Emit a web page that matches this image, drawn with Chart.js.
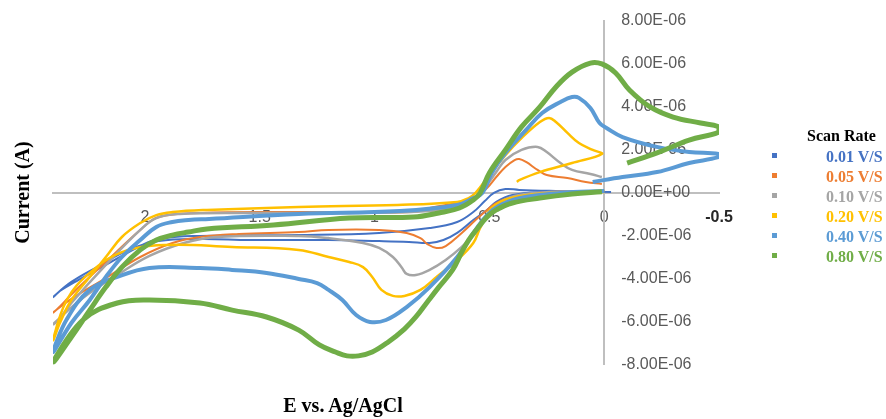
<!DOCTYPE html>
<html>
<head>
<meta charset="utf-8">
<script src="https://cdn.jsdelivr.net/npm/chart.js@4.4.1/dist/chart.umd.min.js"></script>
<style>
  body { margin: 0; background: #fff; }
  #wrap { position: relative; width: 886px; height: 419px; }
  #xTitle { position: absolute; left: 0; width: 686px; top: 393px; text-align: center;
    font: bold 20px "Liberation Serif"; line-height: 24px; color: #000; }
  #legTitle { position: absolute; left: 807px; top: 126px; font: bold 16px "Liberation Serif";
    line-height: 20px; color: #000; white-space: nowrap; }
  .legRow { position: absolute; left: 826px; font: bold 16px "Liberation Serif"; line-height: 20px; white-space: nowrap; }
  .legBox { position: absolute; left: 772px; width: 5px; height: 5px; }
</style>
</head>
<body>
<div id="wrap">
  <canvas id="cv"></canvas>
  <div id="xTitle">E vs. Ag/AgCl</div>
  <div id="legTitle">Scan Rate</div>
</div>
<script>
// scan rates and colours
const seriesLabels = ["0.01 V/S", "0.05 V/S", "0.10 V/S", "0.20 V/S", "0.40 V/S", "0.80 V/S"];
const seriesColors = ["#4472C4", "#ED7D31", "#A5A5A5", "#FFC000", "#5B9BD5", "#70AD47"];
const lineWidths = [2, 2, 2.5, 2.5, 4, 5];

// tick labels
const xTicks = [-0.5, 0, 0.5, 1, 1.5, 2];
const xTickLabels = ["-0.5", "0", "0.5", "1", "1.5", "2"];
const yTicks = [8, 6, 4, 2, 0, -2, -4, -6, -8]; // in microamps
const yTickLabels = ["8.00E-06", "6.00E-06", "4.00E-06", "2.00E-06", "0.00E+00",
  "-2.00E-06", "-4.00E-06", "-6.00E-06", "-8.00E-06"];

// potential (V) / current (uA) for each scan, in scan order
const e001 = [0.00,0.28,0.40,0.47,0.51,0.57,0.64,0.70,0.76,0.85,0.98,1.20,1.54,1.76,1.94,2.07,2.20,2.32,2.40,
  2.37,2.29,2.17,2.02,1.94,1.76,1.33,0.98,0.76,0.64,0.57,0.52,0.48,0.43,0.37,0.19,-0.03];
const i001 = [0.07,0.02,-0.12,-0.44,-0.81,-1.28,-1.88,-2.21,-2.35,-2.30,-2.26,-2.21,-2.21,-2.16,-2.26,-2.67,-3.42,-4.16,-4.86,
  -4.58,-4.07,-3.37,-2.49,-2.16,-2.02,-1.98,-1.88,-1.65,-1.37,-0.91,-0.40,-0.02,0.16,0.12,0.07,0.02];

const e005 = [0.00,0.24,0.40,0.47,0.51,0.56,0.62,0.69,0.73,0.77,0.80,0.86,0.98,1.20,1.33,1.59,1.76,1.88,2.02,2.17,2.32,2.40,
  2.37,2.32,2.17,2.02,1.94,1.76,1.33,0.83,0.76,0.69,0.62,0.56,0.51,0.47,0.43,0.39,0.37,0.34,0.29,0.25,0.16,0.08,0.01];
const i005 = [0.07,0.02,-0.21,-0.49,-0.81,-1.28,-1.88,-2.49,-2.58,-2.40,-2.12,-1.88,-1.74,-1.74,-1.84,-1.93,-2.07,-2.35,-3.00,-3.98,-4.95,-5.58,
  -5.30,-4.74,-3.23,-1.74,-1.14,-0.95,-0.91,-0.91,-0.72,-0.58,-0.44,-0.21,0.21,0.72,1.19,1.51,1.56,1.42,1.05,0.81,0.67,0.49,0.40];

const e010 = [0.00,0.24,0.39,0.47,0.52,0.56,0.62,0.69,0.76,0.82,0.86,0.88,0.92,0.98,1.05,1.20,1.33,1.69,1.83,1.98,2.12,2.27,2.40,
  2.37,2.32,2.17,2.02,1.95,1.85,1.54,1.11,0.76,0.63,0.56,0.52,0.47,0.43,0.36,0.29,0.25,0.19,0.14,0.06,0.01];
const i010 = [0.07,0.02,-0.16,-0.58,-1.19,-1.88,-2.53,-3.14,-3.60,-3.84,-3.79,-3.51,-3.00,-2.58,-2.35,-2.12,-2.02,-2.07,-2.35,-2.95,-3.84,-4.91,-6.12,
  -5.84,-5.14,-3.37,-1.74,-1.19,-1.00,-0.95,-0.95,-0.86,-0.63,-0.26,0.21,0.95,1.51,1.98,2.12,1.88,1.37,1.05,0.86,0.72];

const e020 = [0.00,0.24,0.41,0.49,0.54,0.57,0.64,0.73,0.80,0.87,0.92,0.97,1.01,1.05,1.11,1.20,1.33,1.62,1.91,2.10,2.24,2.34,2.40,
  2.37,2.32,2.24,2.17,2.10,2.02,1.95,1.88,1.73,1.33,0.90,0.64,0.59,0.56,0.50,0.43,0.36,0.28,0.24,0.21,0.16,0.11,0.05,0.01,
  0.14,0.28,0.37,0.38];
const i020 = [0.02,-0.02,-0.26,-0.72,-1.65,-2.35,-3.14,-3.93,-4.53,-4.81,-4.81,-4.53,-3.93,-3.47,-3.23,-3.00,-2.67,-2.53,-2.44,-2.77,-3.74,-5.00,-6.86,
  -6.07,-5.00,-3.93,-3.00,-2.07,-1.42,-1.05,-0.91,-0.81,-0.67,-0.58,-0.44,-0.26,-0.02,0.81,1.74,2.53,3.28,3.47,3.28,2.77,2.30,1.98,1.79,
  1.37,0.95,0.58,0.49];

const e040 = [0.00,0.19,0.37,0.46,0.51,0.56,0.64,0.76,0.86,0.95,1.02,1.08,1.14,1.20,1.25,1.33,1.47,1.62,1.76,1.98,2.12,2.24,2.34,2.40,
  2.32,2.24,2.17,2.10,2.02,1.95,1.88,1.81,1.72,1.33,0.89,0.64,0.57,0.53,0.49,0.43,0.34,0.27,0.19,0.14,0.11,0.06,0.02,-0.01,-0.08,-0.23,-0.37,-0.50,
  -0.50,-0.37,-0.23,-0.08,0.05];
const i040 = [0.07,-0.02,-0.26,-0.63,-1.05,-1.74,-3.00,-4.40,-5.33,-5.93,-6.02,-5.70,-5.00,-4.53,-4.21,-4.02,-3.74,-3.60,-3.51,-3.51,-3.93,-4.53,-5.90,-7.42,
  -6.07,-5.00,-3.93,-3.00,-2.21,-1.60,-1.37,-1.28,-1.23,-1.00,-0.86,-0.58,-0.26,-0.02,0.91,1.84,2.91,3.70,4.21,4.44,4.40,3.93,3.23,3.00,2.58,2.12,1.88,1.79,
  1.65,1.37,0.95,0.72,0.49];

const e080 = [0.01,0.14,0.28,0.40,0.47,0.51,0.55,0.59,0.62,0.66,0.72,0.77,0.82,0.87,0.94,1.01,1.07,1.12,1.17,1.24,1.33,1.47,1.62,1.76,1.98,2.12,2.27,2.40,
  2.32,2.24,2.17,2.10,2.02,1.95,1.88,1.81,1.73,1.44,1.11,0.83,0.72,0.63,0.57,0.54,0.50,0.43,0.36,0.28,0.21,0.14,0.06,0.01,-0.05,-0.11,-0.20,-0.30,-0.42,-0.50,
  -0.50,-0.37,-0.23,-0.10];
const i080 = [0.04,-0.07,-0.26,-0.49,-0.81,-1.14,-1.65,-2.21,-2.77,-3.60,-4.40,-5.09,-5.79,-6.35,-6.95,-7.42,-7.60,-7.60,-7.42,-7.09,-6.40,-5.79,-5.47,-5.14,-5.00,-5.14,-5.93,-7.88,
  -6.72,-5.47,-4.40,-3.47,-2.67,-2.21,-1.98,-1.84,-1.70,-1.51,-1.19,-1.14,-0.95,-0.72,-0.35,-0.02,0.91,1.98,3.05,3.98,4.91,5.60,6.02,5.98,5.56,4.77,3.98,3.51,3.23,3.05,
  2.81,2.44,1.84,1.37];

const potentials = [e001, e005, e010, e020, e040, e080];
const currents = [i001, i005, i010, i020, i040, i080];

// y tick labels sit to the right of the zero line, like the original
const yLabelPlugin = {
  id: "yLabels",
  beforeDatasetsDraw(chart) {
    const ctx = chart.ctx;
    const x0 = chart.scales.x.getPixelForValue(0) + 17;
    ctx.save();
    ctx.font = '16px "Liberation Sans"';
    ctx.fillStyle = "#595959";
    ctx.textAlign = "left";
    ctx.textBaseline = "middle";
    yTicks.forEach((v, k) => {
      ctx.fillText(yTickLabels[k], x0, chart.scales.y.getPixelForValue(v));
    });
    ctx.restore();
  }
};

const datasets = seriesLabels.map((lab, s) => ({
  label: lab,
  data: potentials[s].map((e, k) => ({ x: e, y: currents[s][k] })),
  showLine: true,
  borderColor: seriesColors[s],
  backgroundColor: seriesColors[s],
  borderWidth: lineWidths[s],
  pointRadius: 0,
  tension: 0.4,
  order: seriesLabels.length - s
}));

new Chart(document.getElementById("cv"), {
  type: "scatter",
  data: { datasets: datasets },
  plugins: [yLabelPlugin],
  options: {
    responsive: true,
    maintainAspectRatio: false,
    animation: false,
    layout: { padding: { left: 5, right: 167, top: 20.5, bottom: 54.5 } },
    plugins: { legend: { display: false }, tooltip: { enabled: false } },
    scales: {
      x: {
        type: "linear",
        reverse: true,
        min: -0.5,
        max: 2.4,
        position: { y: 0 },
        z: 1,
        afterBuildTicks: (sc) => { sc.ticks = xTicks.map((v) => ({ value: v })); },
        grid: { display: false, drawTicks: false },
        border: { color: "#BFBFBF", width: 2 },
        ticks: {
          padding: 15,
          autoSkip: false,
          maxRotation: 0,
          callback: (v) => xTickLabels[xTicks.indexOf(v)],
          color: (c) => (c.tick && c.tick.value === -0.5 ? "#262626" : "#595959"),
          font: (c) => ({ family: "Liberation Sans", size: 16,
            weight: c.tick && c.tick.value === -0.5 ? "bold" : "normal" })
        }
      },
      y: {
        type: "linear",
        min: -8,
        max: 8,
        position: { x: 0 },
        grid: { display: false, drawTicks: false },
        border: { color: "#BFBFBF", width: 2 },
        ticks: { display: false }
      },
      yTitle: {
        type: "linear",
        axis: "y",
        position: "left",
        grid: { display: false, drawTicks: false },
        border: { display: false },
        ticks: { display: false },
        title: {
          display: true,
          text: "Current (A)",
          color: "#000",
          font: { family: "Liberation Serif", size: 20, weight: "bold" },
          padding: { top: 7, bottom: 17 }
        }
      }
    }
  }
});

// legend
const wrap = document.getElementById("wrap");
seriesLabels.forEach((lab, s) => {
  const row = document.createElement("div");
  row.className = "legRow";
  row.style.top = (147 + 20 * s) + "px";
  row.style.color = seriesColors[s];
  row.textContent = lab;
  wrap.appendChild(row);
  const box = document.createElement("div");
  box.className = "legBox";
  box.style.top = (152.5 + 20 * s) + "px";
  box.style.background = seriesColors[s];
  wrap.appendChild(box);
});
</script>
</body>
</html>
